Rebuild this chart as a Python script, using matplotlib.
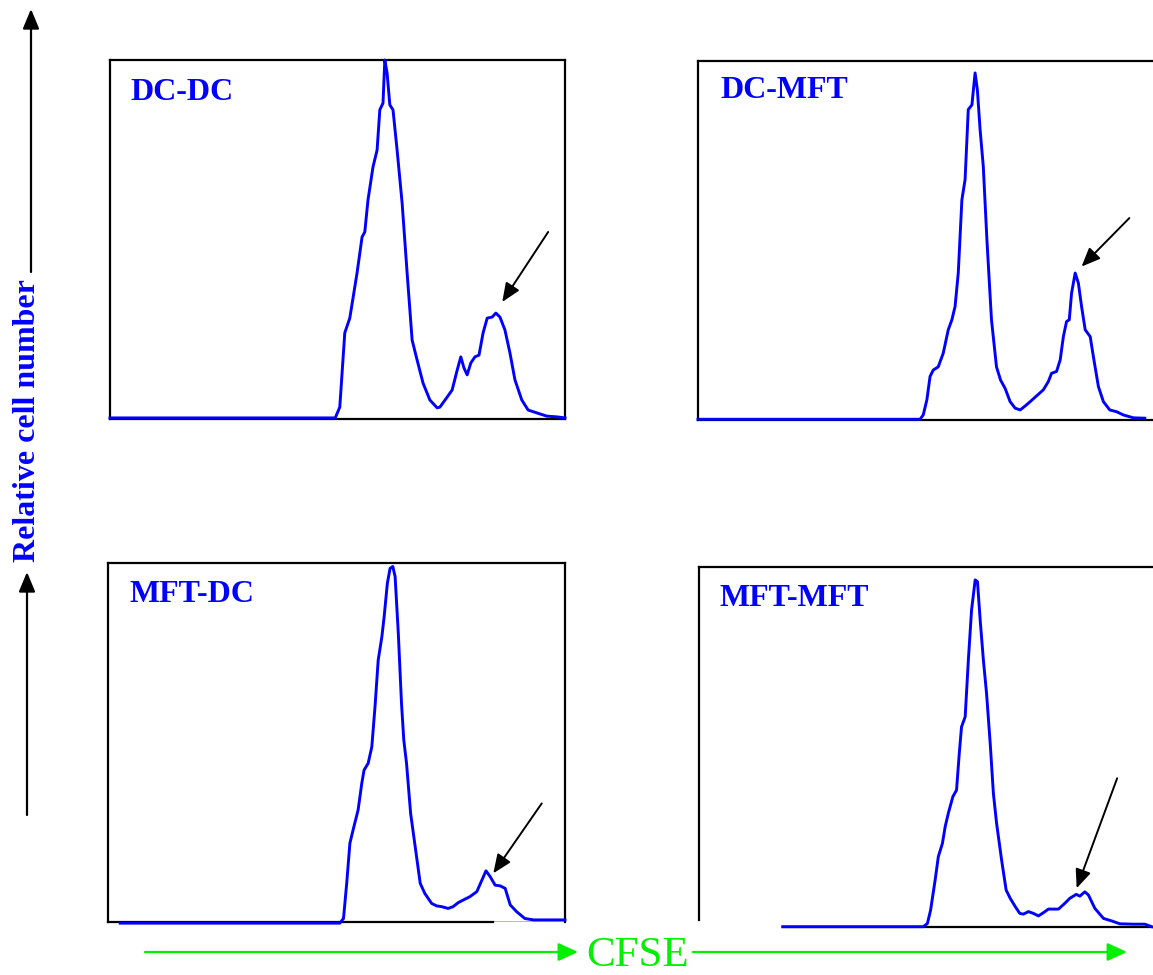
import matplotlib
matplotlib.use("Agg")
import matplotlib.pyplot as plt
from matplotlib.patches import FancyArrowPatch

# ---------------- data (x: CFSE intensity 0-100, y: relative cell number 0-100) -------------
panel_names = ["DC-DC", "DC-MFT", "MFT-DC", "MFT-MFT"]

dcdc_x = [0, 49.5, 50.5, 51.6, 52.7, 54.3, 55.4, 56.0, 56.7, 57.8, 58.7, 59.3, 60.0, 60.4, 60.9,
          61.5, 62.2, 63.1, 64.2, 65.3, 66.4, 67.5, 68.8, 70.3, 71.9, 72.5, 74.1, 75.2, 76.3, 77.1,
          77.8, 78.5, 79.3, 80.2, 81.1, 82.0, 82.9, 84.0, 84.8, 85.7, 86.8, 87.9, 89.0, 90.5, 91.9,
          93.8, 96.0, 98.2, 100]
dcdc_y = [0.3, 0.3, 3.3, 24.0, 28.1, 40.7, 50.7, 52.1, 61.0, 70.2, 74.9, 86.1, 88.0, 100, 96.4,
          87.5, 86.1, 74.9, 60.2, 40.7, 22.0, 16.4, 10.0, 5.3, 3.1, 3.3, 6.1, 8.1, 13.6, 17.3,
          14.2, 12.3, 15.6, 17.3, 17.8, 24.0, 28.1, 28.4, 29.5, 28.4, 24.8, 18.4, 10.9, 5.3, 2.5,
          1.7, 0.8, 0.6, 0.3]

dcmft_x = [0, 48.8, 49.5, 50.3, 51.0, 51.7, 52.8, 53.9, 55.0, 55.8, 56.5, 57.2, 58.0, 58.7, 59.4,
           60.2, 60.9, 61.4, 62.0, 62.7, 63.5, 64.5, 65.6, 66.5, 67.5, 68.6, 69.7, 70.8, 71.9,
           73.0, 74.4, 75.9, 77.0, 77.7, 78.8, 79.6, 80.3, 81.0, 81.6, 82.1, 82.9, 83.6, 84.3,
           85.1, 86.2, 86.9, 88.0, 89.1, 90.5, 92.0, 93.5, 95.7, 98.2]
dcmft_y = [0.2, 0.2, 1.4, 5.6, 12.1, 13.9, 14.8, 18.6, 25.1, 27.9, 31.6, 40.9, 61.3, 66.9, 86.4,
           87.7, 96.6, 91.9, 80.8, 70.6, 50.1, 27.9, 14.8, 11.1, 8.8, 5.1, 3.3, 2.8, 3.9,
           5.1, 6.7, 8.4, 10.7, 13.0, 13.5, 16.7, 23.2, 27.4, 27.9, 35.3, 40.9, 38.1, 31.6,
           25.1, 23.2, 17.6, 9.3, 5.1, 2.8, 2.3, 1.4, 0.6, 0.5]

mftdc_x = [2.6, 50.7, 51.5, 52.2, 52.9, 53.6, 54.7, 55.5, 56.0, 56.9, 57.7, 58.4, 59.1, 59.9, 60.4,
           61.1, 61.7, 62.3, 62.8, 63.5, 64.2, 64.7, 65.3, 66.2, 67.2, 68.3, 69.3, 70.8, 71.9,
           73.0, 74.4, 75.5, 76.6, 78.1, 79.2, 80.7, 81.8, 82.7, 83.6, 84.7, 85.8, 86.9, 88.0,
           89.4, 91.2, 93.1, 94.5, 100]
mftdc_y = [-0.4, -0.4, 0.9, 10.7, 21.9, 25.6, 31.2, 38.6, 42.3, 44.2, 48.8, 60.0, 73.0, 79.5, 85.1,
           94.4, 98.6, 99.1, 96.3, 80.5, 60.9, 50.7, 44.2, 30.2, 20.9, 10.7, 7.9, 5.1, 4.4,
           4.2, 3.7, 4.2, 5.3, 6.3, 7.0, 8.4, 11.6, 14.2, 12.6, 10.2, 10.0, 9.3, 4.7,
           2.8, 0.9, 0.5, 0.5, 0.5]

mftmft_x = [18.4, 49.3, 50.2, 50.9, 51.9, 52.6, 53.5, 54.1, 54.8, 55.8, 56.6, 57.2, 57.7, 58.5,
            59.2, 59.9, 60.7, 61.2, 61.8, 62.5, 63.2, 64.0, 64.7, 65.4, 66.5, 67.5, 68.4, 69.5,
            70.5, 71.3, 72.4, 73.5, 74.6, 75.7, 76.8, 79.0, 80.4, 81.5, 82.9, 83.7, 84.8, 85.6,
            87.0, 88.9, 90.7, 92.5, 95.5, 98.0, 99.5]
mftmft_y = [0, 0, 0.9, 4.6, 13.0, 19.5, 23.2, 27.8, 31.6, 36.2, 38.0, 48.2, 55.6, 58.4,
            74.2, 88.1, 96.5, 96.0, 85.3, 74.2, 64.9, 51.0, 37.1, 28.8, 18.6, 10.2, 7.9, 5.6,
            3.7, 3.5, 4.2, 3.7, 3.0, 3.9, 4.9, 4.9, 6.5, 7.9, 9.0, 8.5, 9.7, 8.8,
            5.1, 2.3, 1.6, 0.8, 0.7, 0.7, 0]

# arrow: (tail x, tail y, head x, head y) in data units
arrows = [(96.3, 52.1, 86.2, 32.6),
          (94.8, 56.2, 84.3, 42.7),
          (94.9, 33.0, 84.3, 13.5),
          (91.9, 41.3, 83.0, 10.7)]

curves_x = [dcdc_x, dcmft_x, mftdc_x, mftmft_x]
curves_y = [dcdc_y, dcmft_y, mftdc_y, mftmft_y]

# ---------------- layout -------------------------------------------------------------------
W, H = 1153, 975
fig = plt.figure(figsize=(W / 100, H / 100), dpi=100)

# (left, top, right, bottom) in pixels
boxes = [(110, 60, 565, 419),
         (698, 60.7, 1153, 420),
         (108.3, 563.3, 565, 921.7),
         (699, 567.3, 1154, 926.7)]
label_pos = [(130, 92), (720, 91), (130, 594), (720, 598)]

blue = "#0000ff"
for i, (l, t, r, b) in enumerate(boxes):
    ax = fig.add_axes([l / W, 1 - b / H, (r - l) / W, (b - t) / H])
    ax.set_xlim(0, 100)
    ax.set_ylim(0, 100)
    ax.set_xticks([])
    ax.set_yticks([])
    for s in ax.spines.values():
        s.set_linewidth(1.6)
        s.set_color("black")
    if i in (1, 3):
        ax.spines["right"].set_visible(False)
    if i == 2:
        ax.spines["bottom"].set_bounds(0, 84.2)
        ax.axhline(0, xmin=0.842, xmax=1.0, color="#b8b8cc", lw=1.4)
    if i == 3:
        ax.spines["left"].set_bounds(1.9, 100)
        ax.spines["bottom"].set_bounds(18.4, 100)
    ax.plot(curves_x[i], curves_y[i], color=blue, lw=2.1, clip_on=False, zorder=3,
            solid_joinstyle="round")
    tx, ty, hx, hy = arrows[i]
    ax.annotate("", xy=(hx, hy), xytext=(tx, ty),
                arrowprops=dict(arrowstyle="-|>,head_length=0.95,head_width=0.4",
                                color="black", lw=1.4, shrinkA=0, shrinkB=0,
                                mutation_scale=12))
    lx, ly = label_pos[i]
    fig.text(lx / W, 1 - ly / H, panel_names[i], color=blue, fontsize=23,
             fontweight="bold", family="Liberation Serif", ha="left", va="center")

# ---------------- outer axis annotations ---------------------------------------------------
def fig_arrow(x0, y0, x1, y1, color, lw, hl, hw):
    a = FancyArrowPatch((x0 / W, 1 - y0 / H), (x1 / W, 1 - y1 / H),
                        transform=fig.transFigure,
                        arrowstyle=f"-|>,head_length={hl},head_width={hw}",
                        color=color, lw=lw, mutation_scale=10,
                        shrinkA=0, shrinkB=0)
    fig.add_artist(a)

fig_arrow(31, 272, 31, 9, "black", 1.6, 1.2, 0.5)
fig_arrow(27, 815, 27, 572, "black", 1.6, 1.2, 0.5)
fig.text(28 / W, 1 - 421 / H, "Relative cell number", rotation=90, color=blue,
         fontsize=23, fontweight="bold", family="Liberation Serif",
         ha="center", va="center")

green = "#00f000"
fig_arrow(145, 952, 578, 952, green, 1.6, 1.2, 0.55)
fig_arrow(693, 952, 1127, 952, green, 1.6, 1.2, 0.55)
fig.text(638 / W, 1 - 956 / H, "CFSE", color=green, fontsize=31,
         family="Liberation Serif", ha="center", va="center")

fig.savefig("out.png", dpi=100)
